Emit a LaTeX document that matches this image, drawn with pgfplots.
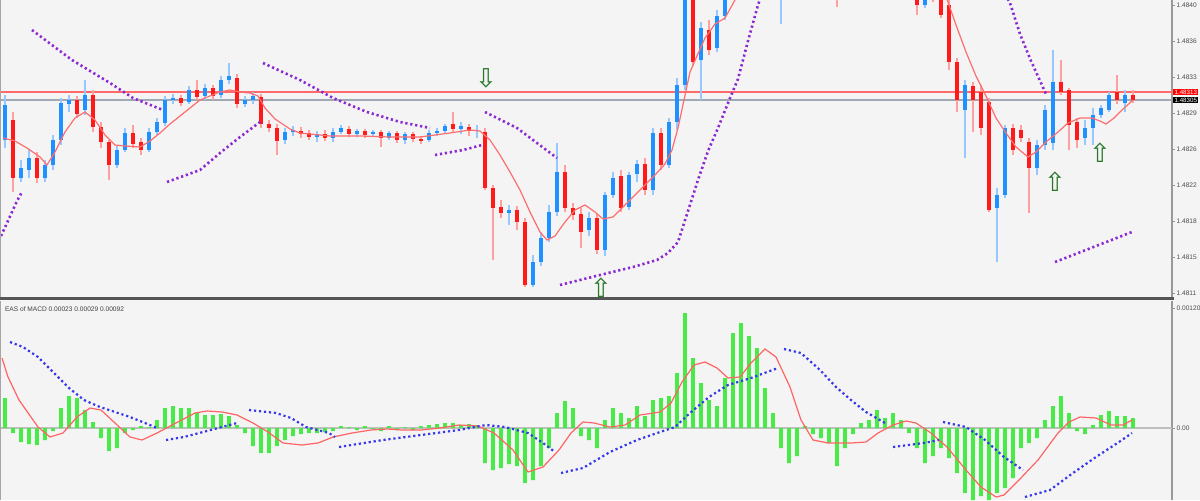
\documentclass[border=0pt]{standalone}
\usepackage{fontspec}
\setmainfont{Liberation Sans}
\newfontfamily\arrowfont{DejaVu Sans}
\usepackage{pgfplots}
\pgfplotsset{compat=1.18}
\usepackage{pgfplotstable}

\definecolor{bg}{RGB}{244,244,244}
\definecolor{bull}{RGB}{30,144,255}
\definecolor{bear}{RGB}{255,25,25}
\definecolor{bullwick}{RGB}{150,200,255}
\definecolor{bearwick}{RGB}{255,160,160}
\definecolor{ma}{RGB}{255,110,110}
\definecolor{sar}{RGB}{140,40,210}
\definecolor{hist}{RGB}{70,235,70}
\definecolor{sig}{RGB}{55,55,235}
\definecolor{macd}{RGB}{255,100,100}
\definecolor{arrowc}{RGB}{40,120,40}
\definecolor{bidline}{RGB}{255,105,105}
\definecolor{askline}{RGB}{160,168,180}
\definecolor{sepc}{RGB}{85,85,85}

\tikzset{tinylabel/.style={font=\fontsize{3.3}{3.6}\selectfont}}
\pgfplotsset{
  sarline/.style={sar, line width=1.3pt, dash pattern=on 1.1pt off 1.4pt},
  sigline/.style={sig, line width=1.1pt, dash pattern=on 1.1pt off 1.4pt},
}

% candles: x o h l c
\pgfplotstableread{
x o h l c
5 1.48265 1.48310 1.48257 1.48300
21 1.48227 1.48245 1.48223 1.48237
29 1.48235 1.48255 1.48227 1.48247
45 1.48227 1.48245 1.48223 1.48240
53 1.48240 1.48270 1.48235 1.48265
61 1.48265 1.48307 1.48260 1.48302
69 1.48301 1.48310 1.48293 1.48305
85 1.48295 1.48325 1.48290 1.48310
117 1.48240 1.48260 1.48237 1.48255
125 1.48255 1.48277 1.48253 1.48272
149 1.48255 1.48277 1.48253 1.48273
157 1.48273 1.48287 1.48270 1.48283
165 1.48282 1.48309 1.48279 1.48305
173 1.48305 1.48311 1.48301 1.48307
189 1.48303 1.48319 1.48301 1.48315
205 1.48309 1.48321 1.48305 1.48317
221 1.48310 1.48329 1.48307 1.48325
229 1.48325 1.48342 1.48321 1.48329
245 1.48301 1.48309 1.48298 1.48305
253 1.48305 1.48313 1.48301 1.48309
285 1.48265 1.48277 1.48261 1.48273
293 1.48273 1.48279 1.48269 1.48275
317 1.48268 1.48274 1.48263 1.48271
333 1.48267 1.48277 1.48263 1.48273
341 1.48273 1.48280 1.48271 1.48277
357 1.48271 1.48276 1.48268 1.48274
373 1.48271 1.48275 1.48268 1.48273
389 1.48267 1.48274 1.48265 1.48272
405 1.48265 1.48273 1.48261 1.48271
429 1.48265 1.48275 1.48263 1.48272
437 1.48272 1.48277 1.48269 1.48274
445 1.48274 1.48281 1.48271 1.48279
461 1.48276 1.48283 1.48271 1.48279
477 1.48274 1.48280 1.48267 1.48275
509 1.48192 1.48200 1.48180 1.48195
533 1.48120 1.48150 1.48118 1.48143
541 1.48143 1.48173 1.48139 1.48167
549 1.48167 1.48200 1.48163 1.48193
557 1.48193 1.48262 1.48189 1.48233
589 1.48175 1.48193 1.48169 1.48187
605 1.48155 1.48213 1.48149 1.48210
613 1.48210 1.48233 1.48207 1.48227
629 1.48198 1.48233 1.48195 1.48230
637 1.48231 1.48245 1.48223 1.48241
653 1.48215 1.48277 1.48210 1.48272
669 1.48240 1.48287 1.48237 1.48283
677 1.48283 1.48327 1.48275 1.48320
685 1.48320 1.48435 1.48315 1.48425
701 1.48345 1.48383 1.48305 1.48377
717 1.48357 1.48395 1.48353 1.48389
725 1.48389 1.48433 1.48385 1.48425
733 1.48425 1.48460 1.48419 1.48450
741 1.48450 1.48475 1.48445 1.48465
749 1.48465 1.48490 1.48460 1.48480
757 1.48480 1.48497 1.48473 1.48485
781 1.48445 1.48467 1.48381 1.48460
789 1.48460 1.48475 1.48450 1.48467
797 1.48467 1.48487 1.48460 1.48480
805 1.48480 1.48500 1.48473 1.48493
813 1.48493 1.48510 1.48485 1.48500
845 1.48445 1.48463 1.48437 1.48455
853 1.48455 1.48477 1.48447 1.48470
861 1.48470 1.48487 1.48463 1.48480
925 1.48400 1.48420 1.48397 1.48413
965 1.48295 1.48325 1.48247 1.48320
997 1.48197 1.48217 1.48143 1.48210
1005 1.48210 1.48280 1.48207 1.48277
1037 1.48237 1.48265 1.48230 1.48260
1045 1.48260 1.48300 1.48255 1.48295
1053 1.48262 1.48355 1.48255 1.48323
1085 1.48267 1.48285 1.48260 1.48277
1093 1.48277 1.48297 1.48260 1.48290
1101 1.48290 1.48300 1.48287 1.48297
1109 1.48295 1.48313 1.48293 1.48310
1125 1.48302 1.48315 1.48293 1.48310
}\bullcandles

\pgfplotstableread{
x o h l c
13 1.48285 1.48293 1.48213 1.48227
37 1.48247 1.48253 1.48222 1.48227
77 1.48305 1.48309 1.48287 1.48291
93 1.48310 1.48315 1.48273 1.48278
101 1.48278 1.48283 1.48257 1.48263
109 1.48263 1.48265 1.48225 1.48240
133 1.48272 1.48280 1.48257 1.48261
141 1.48263 1.48267 1.48250 1.48255
181 1.48307 1.48310 1.48299 1.48302
197 1.48315 1.48325 1.48305 1.48308
213 1.48317 1.48320 1.48305 1.48309
237 1.48327 1.48331 1.48297 1.48301
261 1.48308 1.48311 1.48277 1.48281
269 1.48281 1.48285 1.48273 1.48277
277 1.48277 1.48281 1.48250 1.48264
301 1.48274 1.48278 1.48267 1.48271
309 1.48272 1.48275 1.48265 1.48268
325 1.48271 1.48275 1.48264 1.48267
349 1.48276 1.48279 1.48268 1.48271
365 1.48274 1.48276 1.48267 1.48270
381 1.48273 1.48275 1.48258 1.48267
397 1.48272 1.48274 1.48262 1.48265
413 1.48271 1.48273 1.48263 1.48266
421 1.48266 1.48269 1.48261 1.48264
453 1.48281 1.48293 1.48273 1.48276
469 1.48278 1.48281 1.48269 1.48274
485 1.48273 1.48277 1.48215 1.48217
493 1.48217 1.48220 1.48145 1.48197
501 1.48198 1.48205 1.48187 1.48192
517 1.48195 1.48199 1.48175 1.48183
525 1.48183 1.48187 1.48118 1.48120
565 1.48233 1.48240 1.48193 1.48197
573 1.48197 1.48202 1.48185 1.48190
581 1.48191 1.48197 1.48157 1.48173
597 1.48187 1.48191 1.48151 1.48155
621 1.48229 1.48235 1.48193 1.48197
645 1.48241 1.48247 1.48210 1.48215
661 1.48272 1.48277 1.48235 1.48240
693 1.48430 1.48440 1.48339 1.48343
709 1.48375 1.48385 1.48350 1.48355
765 1.48485 1.48493 1.48467 1.48475
773 1.48475 1.48480 1.48445 1.48455
821 1.48500 1.48505 1.48477 1.48485
829 1.48485 1.48490 1.48455 1.48465
837 1.48465 1.48470 1.48398 1.48445
869 1.48480 1.48490 1.48467 1.48475
877 1.48475 1.48481 1.48457 1.48465
885 1.48465 1.48471 1.48453 1.48460
893 1.48460 1.48465 1.48443 1.48450
901 1.48450 1.48457 1.48433 1.48440
909 1.48440 1.48447 1.48427 1.48435
917 1.48435 1.48440 1.48390 1.48400
933 1.48413 1.48419 1.48403 1.48410
941 1.48410 1.48417 1.48387 1.48390
949 1.48400 1.48405 1.48335 1.48343
957 1.48343 1.48347 1.48293 1.48305
973 1.48319 1.48323 1.48273 1.48305
981 1.48313 1.48320 1.48270 1.48277
989 1.48303 1.48307 1.48193 1.48195
1013 1.48277 1.48281 1.48250 1.48255
1021 1.48275 1.48280 1.48263 1.48267
1029 1.48263 1.48267 1.48192 1.48237
1061 1.48323 1.48345 1.48310 1.48313
1069 1.48315 1.48317 1.48255 1.48280
1077 1.48283 1.48287 1.48257 1.48265
1117 1.48313 1.48330 1.48301 1.48305
1133 1.48310 1.48315 1.48302 1.48305
}\bearcandles

% moving average on price
\pgfplotstableread{
x y
3 1.48267
15 1.48264
27 1.48257
40 1.48248
47 1.48240
55 1.48253
65 1.48273
75 1.48287
85 1.48293
95 1.48285
105 1.48270
115 1.48260
125 1.48259
140 1.48258
150 1.48264
160 1.48272
170 1.48281
180 1.48289
190 1.48297
200 1.48305
210 1.48309
220 1.48313
230 1.48315
240 1.48313
250 1.48312
258 1.48309
265 1.48297
275 1.48286
290 1.48276
300 1.48272
330 1.48269
360 1.48269
390 1.48268
420 1.48268
450 1.48272
470 1.48275
480 1.48274
490 1.48265
500 1.48250
510 1.48233
520 1.48215
530 1.48193
540 1.48173
547 1.48165
555 1.48169
565 1.48183
575 1.48195
585 1.48200
595 1.48193
603 1.48186
613 1.48188
625 1.48200
640 1.48215
655 1.48230
665 1.48241
672 1.48255
678 1.48277
684 1.48305
690 1.48333
697 1.48349
705 1.48367
715 1.48381
725 1.48387
735 1.48405
750 1.48435
850 1.48475
935 1.48435
948 1.48403
956 1.48380
966 1.48353
976 1.48329
986 1.48309
996 1.48287
1006 1.48272
1016 1.48258
1028 1.48248
1036 1.48253
1046 1.48263
1058 1.48273
1068 1.48282
1080 1.48287
1092 1.48287
1100 1.48284
1106 1.48281
1114 1.48287
1122 1.48295
1133 1.48305
}\matable

% MACD histogram
\pgfplotstableread{
x y
5 30e-5
13 -5e-5
21 -14e-5
29 -16e-5
37 -17e-5
45 -12e-5
53 -3e-5
61 20e-5
69 32e-5
77 30e-5
85 18e-5
93 6e-5
101 -10e-5
109 -23e-5
117 -20e-5
125 -5e-5
133 -2e-5
141 2e-5
149 1e-5
157 8e-5
165 20e-5
173 22e-5
181 20e-5
189 20e-5
197 15e-5
205 13e-5
213 13e-5
221 14e-5
229 12e-5
237 3e-5
245 -5e-5
253 -18e-5
261 -25e-5
269 -25e-5
277 -18e-5
285 -12e-5
293 -8e-5
301 -6e-5
309 -5e-5
317 -5e-5
325 -4e-5
333 -3e-5
341 2e-5
349 1e-5
357 -2e-5
365 2e-5
373 -1e-5
381 -3e-5
389 2e-5
397 -2e-5
405 1e-5
413 -2e-5
421 2e-5
429 3e-5
437 4e-5
445 5e-5
453 5e-5
461 3e-5
469 4e-5
477 3e-5
485 -35e-5
493 -42e-5
501 -40e-5
509 -36e-5
517 -38e-5
525 -55e-5
533 -52e-5
541 -38e-5
549 -20e-5
557 15e-5
565 27e-5
573 20e-5
581 -8e-5
589 -12e-5
597 -20e-5
605 8e-5
613 20e-5
621 15e-5
629 10e-5
637 22e-5
645 12e-5
653 28e-5
661 30e-5
669 32e-5
677 55e-5
685 115e-5
693 70e-5
701 45e-5
709 28e-5
717 22e-5
725 50e-5
733 95e-5
741 105e-5
749 92e-5
757 80e-5
765 40e-5
773 15e-5
781 -20e-5
789 -35e-5
797 -28e-5
805 2e-5
813 -6e-5
821 -10e-5
829 -15e-5
837 -38e-5
845 -20e-5
853 -6e-5
861 5e-5
869 8e-5
877 18e-5
885 10e-5
893 15e-5
901 8e-5
909 -5e-5
917 -20e-5
925 -35e-5
933 -28e-5
941 -20e-5
949 -30e-5
957 -45e-5
965 -65e-5
973 -72e-5
981 -68e-5
989 -72e-5
997 -65e-5
1005 -60e-5
1013 -50e-5
1021 -20e-5
1029 -15e-5
1037 -10e-5
1045 8e-5
1053 22e-5
1061 32e-5
1069 15e-5
1077 -3e-5
1085 -6e-5
1093 3e-5
1101 13e-5
1109 17e-5
1117 12e-5
1125 12e-5
1133 10e-5
}\histtable

% MACD line
\pgfplotstableread{
x y
2 70e-5
8 51e-5
19 28e-5
38 1e-5
50 -9e-5
63 -5e-5
77 11e-5
90 20e-5
101 18e-5
115 5e-5
130 -9e-5
142 -12e-5
157 -5e-5
176 5e-5
195 15e-5
207 17e-5
222 16e-5
237 13e-5
253 5e-5
268 -4e-5
283 -15e-5
302 -17e-5
318 -15e-5
333 -9e-5
352 -5e-5
371 -2e-5
387 -1e-5
402 -2e-5
421 -2e-5
440 0
459 3e-5
478 2e-5
494 -5e-5
513 -22e-5
528 -44e-5
543 -39e-5
559 -22e-5
571 -5e-5
583 6e-5
594 5e-5
610 1e-5
625 3e-5
640 13e-5
660 16e-5
671 25e-5
682 46e-5
694 63e-5
705 66e-5
717 60e-5
728 50e-5
740 51e-5
751 65e-5
765 79e-5
776 71e-5
790 41e-5
801 8e-5
813 -12e-5
828 -15e-5
851 -15e-5
866 -14e-5
878 -5e-5
893 3e-5
906 7e-5
916 5e-5
931 -5e-5
947 -19e-5
966 -42e-5
981 -59e-5
996 -69e-5
1004 -67e-5
1019 -52e-5
1038 -32e-5
1058 -5e-5
1069 6e-5
1080 11e-5
1096 10e-5
1111 3e-5
1123 3e-5
1132 8e-5
}\macdtable

\begin{document}
\begin{tikzpicture}
\useasboundingbox (0,0) rectangle (600pt,250pt);
\fill[bg] (0,0) rectangle (600pt,250pt);

% ---------------- price panel ----------------
\begin{axis}[
  at={(0pt,101.5pt)}, anchor=south west, scale only axis,
  width=586pt, height=148.5pt,
  xmin=0, xmax=1172, ymin=1.48108, ymax=1.48405,
  axis x line=none, axis y line*=right,
  y axis line style={draw=black!40, line width=1pt},
  ytick={1.48400,1.48364,1.48328,1.48292,1.48256,1.48220,1.48184,1.48148,1.48112},
  ytick style={draw=black!40, line width=0.5pt}, major tick length=1.5pt, tick align=outside,
  scaled y ticks=false,
  /pgf/number format/assume math mode=true,
  yticklabel style={tinylabel, text=black!70, inner sep=0.6pt,
    /pgf/number format/fixed, /pgf/number format/fixed zerofill, /pgf/number format/precision=4},
  clip mode=individual,
]
\addplot[bidline, line width=1pt] coordinates {(0,1.48313) (1172,1.48313)};
\addplot[askline, line width=1pt] coordinates {(0,1.48305) (1172,1.48305)};

\addplot[bullwick, line width=0.6pt, quiver={u=0, v=\thisrow{h}-\thisrow{l}}] table[x=x, y=l] {\bullcandles};
\addplot[bearwick, line width=0.6pt, quiver={u=0, v=\thisrow{h}-\thisrow{l}}] table[x=x, y=l] {\bearcandles};
\addplot[bull, line width=2pt, quiver={u=0, v=\thisrow{c}-\thisrow{o}}] table[x=x, y=o] {\bullcandles};
\addplot[bear, line width=2pt, quiver={u=0, v=\thisrow{c}-\thisrow{o}}] table[x=x, y=o] {\bearcandles};

\addplot[ma, line width=0.6pt] table[x=x, y=y] {\matable};

% parabolic SAR
\addplot[sarline] coordinates {(1,1.48169) (7,1.48182) (12,1.48193) (17,1.48204) (22,1.48213)};
\addplot[sarline] coordinates {(32,1.48375) (72,1.48345) (110,1.48322) (133,1.48307) (163,1.48295)};
\addplot[sarline] coordinates {(167,1.48223) (200,1.48235) (220,1.48252) (240,1.48268) (260,1.48283)};
\addplot[sarline] coordinates {(263,1.48342) (300,1.48325) (333,1.48307) (367,1.48293) (400,1.48283) (430,1.48277)};
\addplot[sarline] coordinates {(435,1.48250) (463,1.48255) (482,1.48260)};
\addplot[sarline] coordinates {(485,1.48293) (517,1.48277) (557,1.48247)};
\addplot[sarline] coordinates {(560,1.48120) (600,1.48130) (633,1.48138) (657,1.48145) (668,1.48152) (678,1.48163) (688,1.48194) (698,1.48225) (708,1.48254) (718,1.48277) (728,1.48302) (738,1.48326) (748,1.48364) (758,1.48400) (765,1.48420)};
\addplot[sarline] coordinates {(1003,1.48415) (1010,1.48402) (1020,1.48371) (1031,1.48344) (1041,1.48322) (1046,1.48311)};
\addplot[sarline] coordinates {(1055,1.48143) (1132,1.48173)};

% signal arrows
\pgfplotsset{arrowsig/.style={only marks, mark=none, nodes near coords={#1},
  every node near coord/.append style={anchor=center, text=arrowc,
    font=\arrowfont\fontsize{13}{13}\selectfont}}}
\addplot[arrowsig=⇩] coordinates {(486,1.48327)};
\addplot[arrowsig=⇧] coordinates {(601,1.48117)};
\addplot[arrowsig=⇧] coordinates {(1055,1.48223)};
\addplot[arrowsig=⇧] coordinates {(1100,1.48252)};

\draw[black!35, line width=0.8pt] (rel axis cs:0,0) -- (rel axis cs:0,1);
\node[fill=red, text=white, font=\fontsize{3.1}{3.4}\selectfont, inner xsep=0.6pt, inner ysep=0.5pt, anchor=west]
  at (axis cs:1173,1.48313) {1.48313};
\node[fill=black, text=white, font=\fontsize{3.1}{3.4}\selectfont, inner xsep=0.6pt, inner ysep=0.5pt, anchor=west]
  at (axis cs:1173,1.48305) {1.48305};
\end{axis}

% ---------------- MACD panel ----------------
\begin{axis}[
  at={(0pt,0pt)}, anchor=south west, scale only axis,
  width=586pt, height=99.5pt,
  xmin=0, xmax=1172, ymin=-72e-5, ymax=127e-5,
  axis x line=none, axis y line*=right,
  y axis line style={draw=black!40, line width=1pt},
  ytick={120e-5}, yticklabels={0.00120},
  extra y ticks={0}, extra y tick labels={0.00},
  extra y tick style={grid=major, grid style={black!25, line width=1pt}},
  ytick style={draw=black!40, line width=0.5pt}, major tick length=1.5pt, tick align=outside,
  scaled y ticks=false,
  yticklabel style={tinylabel, text=black!70, inner sep=0.6pt},
  clip mode=individual,
]
\addplot[ybar, bar width=1.8pt, fill=hist, draw=none] table[x=x, y=y] {\histtable};
\addplot[macd, line width=0.6pt] table[x=x, y=y] {\macdtable};

\addplot[sigline] coordinates {(10,86e-5) (23,81e-5) (38,71e-5) (54,55e-5) (69,40e-5) (84,28e-5) (100,21e-5) (115,16e-5) (130,11e-5) (145,5e-5) (157,0)};
\addplot[sigline] coordinates {(166,-12e-5) (184,-9e-5) (203,-4e-5) (222,1e-5) (237,5e-5)};
\addplot[sigline] coordinates {(249,18e-5) (276,15e-5) (291,10e-5) (306,1e-5) (329,-5e-5) (335,-9e-5)};
\addplot[sigline] coordinates {(339,-19e-5) (364,-15e-5) (383,-12e-5) (421,-7e-5) (459,-2e-5) (486,3e-5) (505,1e-5) (528,-5e-5) (543,-15e-5) (555,-24e-5)};
\addplot[sigline] coordinates {(561,-45e-5) (583,-40e-5) (610,-24e-5) (637,-12e-5) (660,-4e-5) (675,1e-5) (690,15e-5) (709,31e-5) (728,43e-5) (751,50e-5) (778,60e-5)};
\addplot[sigline] coordinates {(784,79e-5) (801,75e-5) (820,58e-5) (836,41e-5) (851,28e-5) (866,16e-5) (885,5e-5)};
\addplot[sigline] coordinates {(893,-19e-5) (924,-15e-5) (939,-12e-5)};
\addplot[sigline] coordinates {(943,6e-5) (966,1e-5) (985,-12e-5) (1004,-29e-5) (1023,-42e-5)};
\addplot[sigline] coordinates {(1025,-69e-5) (1050,-62e-5) (1073,-45e-5) (1096,-29e-5) (1119,-14e-5) (1132,-5e-5)};

\draw[black!35, line width=0.8pt] (rel axis cs:0,0) -- (rel axis cs:0,1);
\node[anchor=north west, tinylabel, text=black!75, inner sep=0pt] at (rel axis cs:0.004,0.975)
  {EAS of MACD 0.00023 0.00029 0.00092};
\end{axis}

% panel separator
\fill[sepc] (0pt,100pt) rectangle (587pt,101.6pt);
\end{tikzpicture}
\end{document}
